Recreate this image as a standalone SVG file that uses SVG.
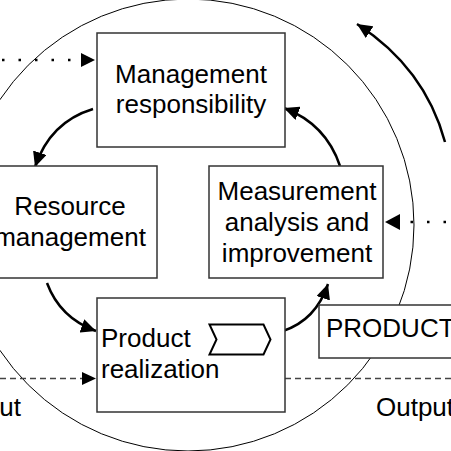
<svg xmlns="http://www.w3.org/2000/svg" width="451" height="451" viewBox="0 0 451 451">
<defs>
<style>
.box{fill:#fff;stroke:#333;stroke-width:1.5}
.t{font-family:"Liberation Sans",Arial,Helvetica,sans-serif;font-size:26px;fill:#000}
.c{text-anchor:middle}
.arr{fill:none;stroke:#000;stroke-width:2.5}
.dot{fill:none;stroke:#000;stroke-width:2.5;stroke-dasharray:2.5 14}
.dash{fill:none;stroke:#444;stroke-width:1.3;stroke-dasharray:6 4}
</style>
<marker id="ah" markerUnits="userSpaceOnUse" markerWidth="16" markerHeight="14" refX="15" refY="7" orient="auto">
<path d="M0,0 L15,7 L0,14 z" fill="#000"/>
</marker>
</defs>
<rect width="451" height="451" fill="#fff"/>
<g id="cycle">
<circle cx="188" cy="225" r="226" fill="none" stroke="#000" stroke-width="1"/>
</g>
<g id="connectors">
<path class="dot" d="M2 60 H80"/>
<path d="M95 60 L81 53 L81 67 z" fill="#000"/>
<path class="dot" d="M446 222 H403"/>
<path d="M385 222 L400 214 L400 230 z" fill="#000"/>
<path class="dash" d="M0 378.5 H82"/>
<path d="M96 378.5 L82 372 L82 385 z" fill="#000"/>
<path class="dash" d="M285 378.5 H451"/>
<path class="arr" d="M93 109 Q50 122 35 167" marker-end="url(#ah)"/>
<path class="arr" d="M47 283 Q60 318 96 331" marker-end="url(#ah)"/>
<path class="arr" d="M283 331 Q316 320 328 284" marker-end="url(#ah)"/>
<path class="arr" d="M340 166 Q326 124 284 108" marker-end="url(#ah)"/>
<path class="arr" d="M445 142 Q425 68 357 24" marker-end="url(#ah)"/>
</g>
<g id="management">
<rect class="box" x="97" y="33" width="188" height="114"/>
<text class="t c" x="191" y="83">Management</text>
<text class="t c" x="191" y="113">responsibility</text>
</g>
<g id="resource">
<rect class="box" x="-17" y="166" width="174" height="112"/>
<text class="t c" x="70" y="215">Resource</text>
<text class="t c" x="70" y="246">management</text>
</g>
<g id="measurement">
<rect class="box" x="209" y="166" width="174" height="112"/>
<text class="t c" x="297" y="200">Measurement</text>
<text class="t c" x="297" y="231">analysis and</text>
<text class="t c" x="297" y="262">improvement</text>
</g>
<g id="product-realization">
<rect class="box" x="97" y="298" width="188" height="114"/>
<text class="t" x="101" y="347">Product</text>
<text class="t" x="101" y="378">realization</text>
<path d="M209.5 324.5 H263.5 L270.5 339.5 L263.5 354.5 H209.5 L216.5 339.5 z" fill="#fff" stroke="#000" stroke-width="2"/>
</g>
<g id="product">
<rect class="box" x="319" y="305" width="150" height="53"/>
<text class="t" x="326" y="337">PRODUCT</text>
</g>
<g id="io-labels">
<text class="t" x="21" y="416" text-anchor="end">Input</text>
<text class="t" x="376" y="416">Output</text>
</g>
</svg>
